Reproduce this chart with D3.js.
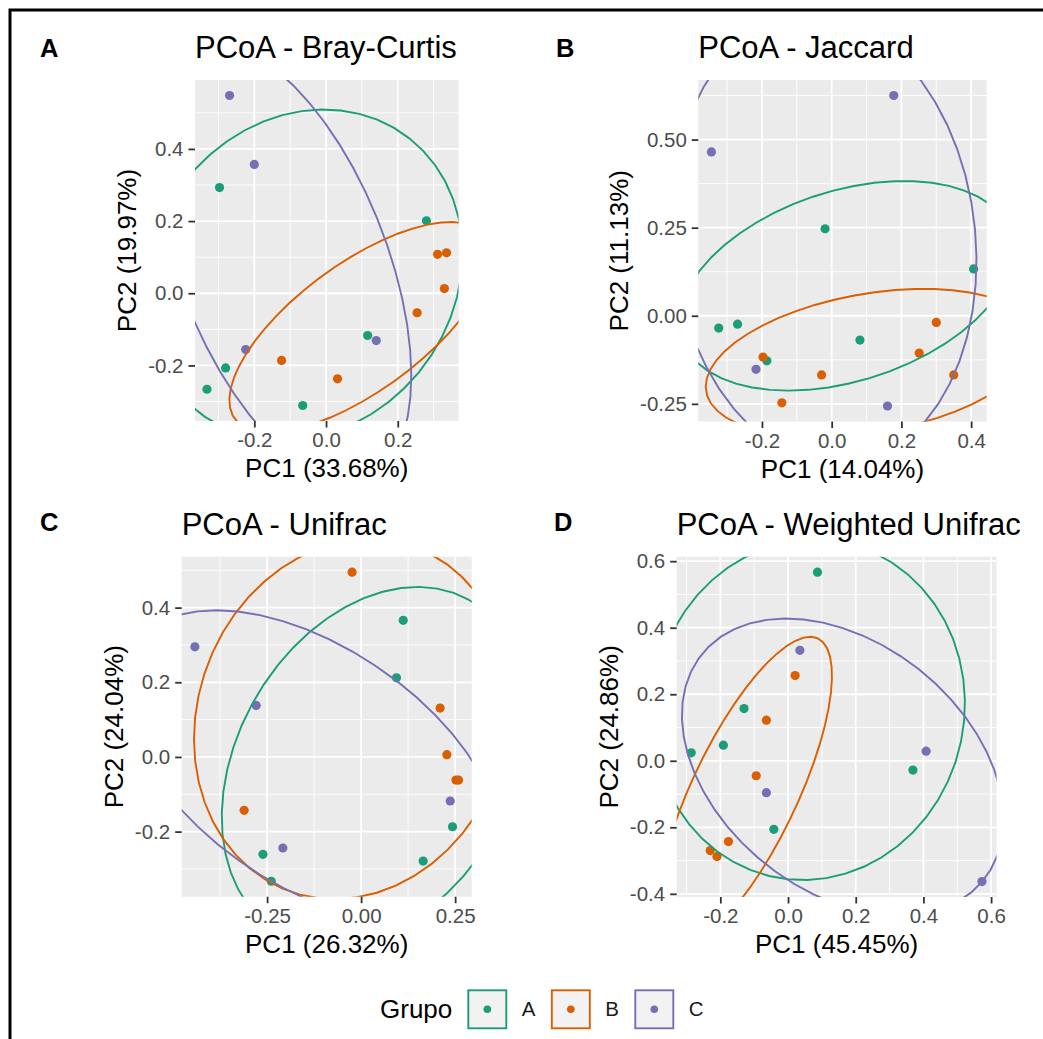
<!DOCTYPE html>
<html>
<head>
<meta charset="utf-8">
<script src="https://cdn.jsdelivr.net/npm/d3@7"></script>
<style>
body { margin: 0; background: #fff; }
text { font-family: "Liberation Sans", Arial, sans-serif; }
</style>
</head>
<body>
<div id="chart"></div>
<script>
var grupos = ["A", "B", "C"];
var grupoColors = ["#1B9E77", "#D95F02", "#7570B3"];

// A - Bray-Curtis
var brayGrupo = ["A","A","A","A","A","A","B","B","B","B","B","B","C","C","C","C"];
var brayPC1 = [-0.297, 0.280, 0.116, -0.280, -0.332, -0.065, 0.311, 0.336, 0.330, 0.254, -0.124, 0.032, -0.269, -0.200, 0.140, -0.224];
var brayPC2 = [0.293, 0.201, -0.117, -0.207, -0.266, -0.311, 0.108, 0.112, 0.013, -0.054, -0.186, -0.237, 0.548, 0.357, -0.131, -0.156];
var brayXTicks = ["-0.2", "0.0", "0.2"];
var brayYTicks = ["-0.2", "0.0", "0.2", "0.4"];
// ellipse per grupo: centre PC1, centre PC2, semi-major, semi-minor, angle (deg)
var brayEllipses = [[-0.063, 0.051, 0.480, 0.420, 52], [0.095, -0.094, 0.432, 0.177, 36], [-0.120, 0.083, 0.641, 0.290, -68.5]];

// B - Jaccard
var jacGrupo = ["A","A","A","A","A","A","B","B","B","B","B","B","C","C","C","C"];
var jacPC1 = [-0.019, 0.407, -0.324, -0.270, 0.081, -0.186, 0.300, 0.251, 0.350, -0.029, -0.143, -0.197, 0.178, -0.345, 0.160, -0.217];
var jacPC2 = [0.247, 0.133, -0.035, -0.024, -0.069, -0.128, -0.019, -0.106, -0.168, -0.168, -0.247, -0.117, 0.625, 0.465, -0.256, -0.152];
var jacXTicks = ["-0.2", "0.0", "0.2", "0.4"];
var jacYTicks = ["-0.25", "0.00", "0.25", "0.50"];
var jacEllipses = [[0.042, 0.085, 0.495, 0.270, 17.5], [0.113, -0.134, 0.480, 0.197, 9.7], [-0.022, 0.214, 0.640, 0.434, 96.6]];

// C - Unifrac
var uniGrupo = ["A","A","A","A","A","A","B","B","B","B","B","B","C","C","C","C"];
var uniPC1 = [0.112, 0.094, 0.243, -0.261, -0.239, 0.165, -0.024, 0.210, 0.228, 0.252, 0.259, -0.311, -0.442, -0.279, 0.237, -0.208];
var uniPC2 = [0.366, 0.212, -0.187, -0.261, -0.333, -0.279, 0.495, 0.131, 0.006, -0.062, -0.062, -0.143, 0.295, 0.138, -0.118, -0.244];
var uniXTicks = ["-0.25", "0.00", "0.25"];
var uniYTicks = ["-0.2", "0.0", "0.2", "0.4"];
var uniEllipses = [[0.035, -0.025, 0.512, 0.365, 60.5], [-0.024, 0.101, 0.490, 0.411, 70.6], [-0.130, -0.026, 0.574, 0.318, -34.8]];

// D - Weighted Unifrac
var wuniGrupo = ["A","A","A","A","A","A","B","B","B","B","B","B","C","C","C","C"];
var wuniPC1 = [0.087, -0.130, -0.191, -0.286, 0.369, -0.042, 0.021, -0.064, -0.094, -0.176, -0.230, -0.210, 0.035, 0.408, -0.064, 0.573];
var wuniPC2 = [0.567, 0.157, 0.047, 0.024, -0.028, -0.206, 0.256, 0.122, -0.045, -0.243, -0.270, -0.288, 0.332, 0.029, -0.096, -0.363];
var wuniXTicks = ["-0.2", "0.0", "0.2", "0.4", "0.6"];
var wuniYTicks = ["-0.4", "-0.2", "0.0", "0.2", "0.4", "0.6"];
var wuniEllipses = [[0.061, 0.153, 0.513, 0.460, 80], [-0.128, -0.094, 0.510, 0.156, 65], [0.1615, -0.019, 0.537, 0.370, -40]];

var panels = [
  {tag: "A", title: "PCoA - Bray-Curtis", xTitle: "PC1 (33.68%)", yTitle: "PC2 (19.97%)",
   grupo: brayGrupo, pc1: brayPC1, pc2: brayPC2, xTicks: brayXTicks, yTicks: brayYTicks, ellipses: brayEllipses,
   box: [195, 80, 458.5, 421], tagPos: [40, 56.7]},
  {tag: "B", title: "PCoA - Jaccard", xTitle: "PC1 (14.04%)", yTitle: "PC2 (11.13%)",
   grupo: jacGrupo, pc1: jacPC1, pc2: jacPC2, xTicks: jacXTicks, yTicks: jacYTicks, ellipses: jacEllipses,
   box: [698.3, 80, 986.7, 421.5], tagPos: [556, 56.7]},
  {tag: "C", title: "PCoA - Unifrac", xTitle: "PC1 (26.32%)", yTitle: "PC2 (24.04%)",
   grupo: uniGrupo, pc1: uniPC1, pc2: uniPC2, xTicks: uniXTicks, yTicks: uniYTicks, ellipses: uniEllipses,
   box: [181.7, 556.7, 471.7, 896.7], tagPos: [40, 530.7]},
  {tag: "D", title: "PCoA - Weighted Unifrac", xTitle: "PC1 (45.45%)", yTitle: "PC2 (24.86%)",
   grupo: wuniGrupo, pc1: wuniPC1, pc2: wuniPC2, xTicks: wuniXTicks, yTicks: wuniYTicks, ellipses: wuniEllipses,
   box: [676.7, 556.7, 996.5, 897], tagPos: [554, 530.7]}
];

var color = d3.scaleOrdinal().domain(grupos).range(grupoColors);

// outline of an ellipse in data units (51 segments, like stat_ellipse)
function ellipsePoints(e) {
  var th = e[4] * Math.PI / 180, c = Math.cos(th), s = Math.sin(th);
  return d3.range(52).map(function(k) {
    var t = k * 2 * Math.PI / 51;
    var u = e[2] * Math.cos(t), v = e[3] * Math.sin(t);
    return [e[0] + u * c - v * s, e[1] + u * s + v * c];
  });
}

function minorBreaks(major, lo, hi) {
  var step = major[1] - major[0];
  var out = [major[0] - step / 2];
  major.forEach(function(m) { out.push(m + step / 2); });
  return out.filter(function(m) { return m > lo && m < hi; });
}

var svg = d3.select("#chart").append("svg")
    .attr("width", 1043)
    .attr("height", 1039);

svg.append("rect")
    .attr("x", 10).attr("y", 10)
    .attr("width", 1200).attr("height", 1200)
    .attr("fill", "none")
    .attr("stroke", "#000")
    .attr("stroke-width", 3);

panels.forEach(function(pn, pi) {
  var L = pn.box[0], T = pn.box[1], R = pn.box[2], B = pn.box[3];
  var rows = pn.pc1.map(function(v, i) { return {g: pn.grupo[i], x: v, y: pn.pc2[i]}; });

  var xe = d3.extent(pn.pc1), ye = d3.extent(pn.pc2);
  var xp = (xe[1] - xe[0]) * 0.05, yp = (ye[1] - ye[0]) * 0.05;
  var x = d3.scaleLinear().domain([xe[0] - xp, xe[1] + xp]).range([L, R]);
  var y = d3.scaleLinear().domain([ye[0] - yp, ye[1] + yp]).range([B, T]);

  var xMajor = pn.xTicks.map(Number), yMajor = pn.yTicks.map(Number);

  var g = svg.append("g");

  g.append("rect")
      .attr("x", L).attr("y", T)
      .attr("width", R - L).attr("height", B - T)
      .attr("fill", "#EBEBEB");

  g.selectAll(".vminor").data(minorBreaks(xMajor, x.domain()[0], x.domain()[1])).enter()
    .append("line")
      .attr("x1", function(d) { return x(d); }).attr("x2", function(d) { return x(d); })
      .attr("y1", T).attr("y2", B)
      .attr("stroke", "#fff").attr("stroke-width", 0.9);
  g.selectAll(".hminor").data(minorBreaks(yMajor, y.domain()[0], y.domain()[1])).enter()
    .append("line")
      .attr("y1", function(d) { return y(d); }).attr("y2", function(d) { return y(d); })
      .attr("x1", L).attr("x2", R)
      .attr("stroke", "#fff").attr("stroke-width", 0.9);
  g.selectAll(".vmajor").data(xMajor).enter()
    .append("line")
      .attr("x1", function(d) { return x(d); }).attr("x2", function(d) { return x(d); })
      .attr("y1", T).attr("y2", B)
      .attr("stroke", "#fff").attr("stroke-width", 1.8);
  g.selectAll(".hmajor").data(yMajor).enter()
    .append("line")
      .attr("y1", function(d) { return y(d); }).attr("y2", function(d) { return y(d); })
      .attr("x1", L).attr("x2", R)
      .attr("stroke", "#fff").attr("stroke-width", 1.8);

  var clipId = "clip" + pi;
  svg.append("clipPath").attr("id", clipId)
    .append("rect").attr("x", L).attr("y", T).attr("width", R - L).attr("height", B - T);

  var inner = g.append("g").attr("clip-path", "url(#" + clipId + ")");

  inner.selectAll("circle").data(rows).enter()
    .append("circle")
      .attr("cx", function(d) { return x(d.x); })
      .attr("cy", function(d) { return y(d.y); })
      .attr("r", 4.6)
      .attr("fill", function(d) { return color(d.g); });

  var line = d3.line()
      .x(function(d) { return x(d[0]); })
      .y(function(d) { return y(d[1]); });

  inner.selectAll(".ellipse").data(pn.ellipses).enter()
    .append("path")
      .attr("class", "ellipse")
      .attr("d", function(d) { return line(ellipsePoints(d)); })
      .attr("fill", "none")
      .attr("stroke", function(d, i) { return color(grupos[i]); })
      .attr("stroke-width", 1.9);

  // axes
  var xAxis = g.append("g")
      .attr("transform", "translate(0," + B + ")")
      .call(d3.axisBottom(x).tickValues(xMajor)
        .tickFormat(function(d, i) { return pn.xTicks[i]; })
        .tickSize(6.5).tickPadding(5));
  var yAxis = g.append("g")
      .attr("transform", "translate(" + L + ",0)")
      .call(d3.axisLeft(y).tickValues(yMajor)
        .tickFormat(function(d, i) { return pn.yTicks[i]; })
        .tickSize(6.5).tickPadding(5));
  [xAxis, yAxis].forEach(function(ax) {
    ax.select(".domain").remove();
    ax.selectAll(".tick line").attr("stroke", "#333").attr("stroke-width", 1.8);
    ax.selectAll(".tick text")
      .attr("fill", "#4D4D4D")
      .style("font-size", "20.5px")
      .style("font-family", "'Liberation Sans', Arial, sans-serif");
  });

  var yBox = yAxis.node().getBBox();

  g.append("text")
      .attr("x", (L + R) / 2)
      .attr("y", B + 56)
      .attr("text-anchor", "middle")
      .style("font-size", "26px")
      .attr("fill", "#000")
      .text(pn.xTitle);

  g.append("text")
      .attr("transform", "translate(" + (L + yBox.x - 12) + "," + ((T + B) / 2) + ") rotate(-90)")
      .attr("text-anchor", "middle")
      .style("font-size", "26px")
      .attr("fill", "#000")
      .text(pn.yTitle);

  g.append("text")
      .attr("x", L)
      .attr("y", T - 22)
      .style("font-size", "31px")
      .attr("fill", "#000")
      .text(pn.title);

  g.append("text")
      .attr("x", pn.tagPos[0])
      .attr("y", pn.tagPos[1])
      .style("font-size", "25.5px")
      .style("font-weight", "bold")
      .attr("fill", "#000")
      .text(pn.tag);
});

// legend
var legend = svg.append("g").attr("transform", "translate(380,0)");
legend.append("text")
    .attr("x", 0).attr("y", 1018)
    .style("font-size", "26px")
    .attr("fill", "#000")
    .text("Grupo");

var keys = legend.selectAll(".key").data(grupos).enter()
  .append("g")
    .attr("class", "key")
    .attr("transform", function(d, i) { return "translate(" + (87.3 + i * 83.5) + ",989.3)"; });
keys.append("rect")
    .attr("x", 1).attr("y", 1).attr("width", 38).attr("height", 38)
    .attr("fill", "#F2F2F2")
    .attr("stroke", function(d) { return color(d); })
    .attr("stroke-width", 1.9);
keys.append("circle")
    .attr("cx", 20).attr("cy", 20).attr("r", 3.8)
    .attr("fill", function(d) { return color(d); });
keys.append("text")
    .attr("x", 54.5).attr("y", 27)
    .style("font-size", "20.5px")
    .attr("fill", "#1A1A1A")
    .text(function(d) { return d; });
</script>
</body>
</html>
